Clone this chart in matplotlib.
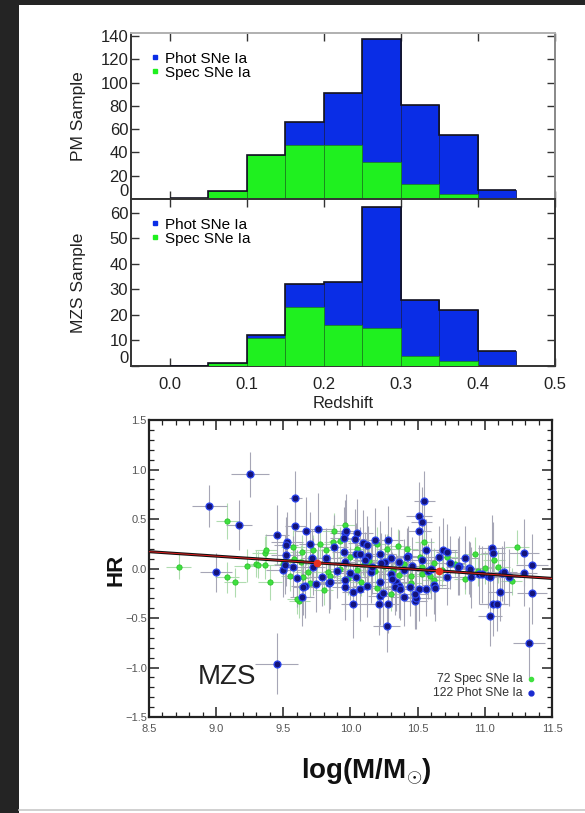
import matplotlib
matplotlib.use("Agg")
import matplotlib.pyplot as plt
from matplotlib.patches import Rectangle
from matplotlib.lines import Line2D
from matplotlib.ticker import MultipleLocator

plt.rcParams["font.family"] = ["Liberation Sans", "DejaVu Sans"]
plt.rcParams["mathtext.fontset"] = "custom"
plt.rcParams["mathtext.rm"] = "Liberation Sans"
plt.rcParams["mathtext.bf"] = "Liberation Sans:bold"

# ---------------- redshift histograms ----------------
z_edges = [0.00, 0.05, 0.10, 0.15, 0.20, 0.25, 0.30, 0.35, 0.40, 0.45]
pm_total = [1, 7, 38, 66, 91, 137, 81, 55, 8]
pm_spec = [1, 7, 38, 46, 46, 32, 13, 4, 0]
mzs_total = [0, 1, 12, 32, 33, 62, 26, 22, 6]
mzs_spec = [0, 1, 11, 23, 16, 15, 4, 2, 0]
z_ticks = [0.0, 0.1, 0.2, 0.3, 0.4, 0.5]
z_ticklabels = ["0.0", "0.1", "0.2", "0.3", "0.4", "0.5"]
pm_yticks = [0, 20, 40, 60, 80, 100, 120, 140]
mzs_yticks = [0, 10, 20, 30, 40, 50, 60]
hist_labels = ["Phot SNe Ia", "Spec SNe Ia"]

# ---------------- Hubble residuals vs host mass ----------------
# (log M, HR, mass error, HR error)
phot_sne = [
    (8.95, 0.63, 0.13, 0.21), (9.25, 0.95, 0.14, 0.23), (9.17, 0.44, 0.10, 0.25),
    (9.00, -0.04, 0.12, 0.20), (9.45, -0.96, 0.16, 0.31), (9.45, 0.34, 0.09, 0.30),
    (9.59, 0.71, 0.05, 0.27), (9.59, 0.43, 0.08, 0.33), (9.53, 0.27, 0.12, 0.30),
    (9.52, 0.24, 0.09, 0.28), (9.52, 0.14, 0.11, 0.32), (9.50, -0.02, 0.13, 0.27),
    (9.51, 0.04, 0.08, 0.30), (9.67, 0.38, 0.09, 0.34), (9.76, 0.40, 0.10, 0.36),
    (9.82, 0.11, 0.12, 0.30), (9.71, 0.11, 0.08, 0.29), (9.96, 0.36, 0.11, 0.33),
    (9.97, 0.38, 0.09, 0.37), (9.95, 0.31, 0.10, 0.31), (10.05, 0.36, 0.12, 0.34),
    (10.03, 0.30, 0.09, 0.30), (10.09, 0.26, 0.11, 0.33), (10.12, 0.24, 0.08, 0.29),
    (10.18, 0.29, 0.10, 0.32), (10.28, 0.29, 0.11, 0.34), (9.95, 0.17, 0.09, 0.28),
    (10.04, 0.15, 0.10, 0.31), (10.07, 0.15, 0.08, 0.27), (10.22, 0.15, 0.12, 0.33),
    (10.13, 0.13, 0.09, 0.30), (10.26, 0.07, 0.10, 0.28), (10.36, 0.07, 0.11, 0.32),
    (10.43, 0.13, 0.09, 0.30), (10.51, 0.53, 0.10, 0.34), (10.51, 0.38, 0.09, 0.31),
    (10.55, 0.68, 0.08, 0.30), (10.53, 0.47, 0.08, 0.35), (10.56, 0.19, 0.10, 0.31),
    (10.53, 0.09, 0.09, 0.29), (10.69, 0.19, 0.10, 0.32), (10.72, 0.17, 0.08, 0.28),
    (10.66, 0.12, 0.09, 0.31), (10.74, 0.06, 0.11, 0.27), (10.85, 0.11, 0.10, 0.32),
    (10.81, 0.03, 0.08, 0.30), (10.88, 0.01, 0.09, 0.27), (11.05, 0.21, 0.10, 0.33),
    (11.06, 0.16, 0.09, 0.31), (11.29, 0.16, 0.11, 0.34), (11.35, 0.04, 0.12, 0.31),
    (10.23, 0.06, 0.10, 0.30), (10.11, 0.09, 0.09, 0.28), (10.30, 0.11, 0.08, 0.31),
    (10.42, 0.12, 0.10, 0.29), (9.96, 0.07, 0.09, 0.27), (10.96, -0.06, 0.10, 0.30),
    (11.02, -0.08, 0.09, 0.32), (11.13, -0.05, 0.11, 0.28), (11.29, -0.05, 0.10, 0.33),
    (11.35, -0.25, 0.11, 0.31), (11.11, -0.24, 0.09, 0.29), (11.06, -0.36, 0.10, 0.32),
    (11.09, -0.36, 0.08, 0.27), (11.04, -0.48, 0.09, 0.30), (11.33, -0.75, 0.12, 0.36),
    (10.27, -0.58, 0.10, 0.26), (10.02, -0.36, 0.09, 0.34), (10.21, -0.36, 0.11, 0.31),
    (10.28, -0.36, 0.08, 0.29), (10.48, -0.33, 0.09, 0.28), (10.49, -0.30, 0.10, 0.31),
    (9.64, -0.29, 0.09, 0.29), (9.66, -0.18, 0.10, 0.32), (9.74, -0.16, 0.11, 0.28),
    (9.84, -0.15, 0.09, 0.30), (9.96, -0.19, 0.10, 0.33), (10.02, -0.24, 0.08, 0.29),
    (10.07, -0.21, 0.09, 0.32), (9.79, -0.09, 0.10, 0.29), (9.85, -0.14, 0.09, 0.27),
    (9.96, -0.12, 0.11, 0.31), (10.04, -0.09, 0.08, 0.28), (10.22, -0.14, 0.10, 0.32),
    (10.22, -0.28, 0.09, 0.29), (10.24, -0.25, 0.08, 0.33), (10.34, -0.14, 0.10, 0.29),
    (10.36, -0.18, 0.09, 0.32), (10.33, -0.19, 0.08, 0.28), (10.37, -0.21, 0.11, 0.31),
    (10.44, -0.19, 0.09, 0.29), (10.51, -0.21, 0.10, 0.32), (10.56, -0.21, 0.08, 0.27),
    (10.62, -0.17, 0.09, 0.29), (10.63, -0.20, 0.10, 0.33), (10.72, -0.09, 0.09, 0.28),
    (10.90, -0.09, 0.10, 0.31), (10.98, -0.06, 0.09, 0.29), (11.04, -0.09, 0.08, 0.27),
    (11.14, -0.04, 0.10, 0.32), (10.80, 0.02, 0.09, 0.29), (10.89, -0.01, 0.08, 0.28),
    (9.57, 0.02, 0.10, 0.31), (9.72, 0.02, 0.09, 0.29), (9.65, -0.19, 0.08, 0.28),
    (10.48, -0.26, 0.10, 0.32), (9.60, -0.10, 0.09, 0.29), (9.90, -0.03, 0.10, 0.27),
    (10.15, -0.04, 0.09, 0.31), (10.30, -0.06, 0.08, 0.29), (10.40, -0.02, 0.10, 0.32),
    (10.58, -0.03, 0.09, 0.28), (10.12, -0.18, 0.10, 0.31), (10.40, -0.29, 0.09, 0.29),
    (9.70, 0.25, 0.08, 0.32), (10.16, 0.02, 0.10, 0.28), (10.46, 0.03, 0.09, 0.29),
    (10.00, -0.05, 0.08, 0.27), (10.60, 0.00, 0.10, 0.31), (11.18, -0.09, 0.09, 0.29),
    (9.88, 0.22, 0.10, 0.32), (10.31, -0.11, 0.09, 0.28),
]
spec_sne = [
    (8.72, 0.02, 0.09, 0.13), (9.08, 0.48, 0.08, 0.18), (9.08, -0.09, 0.09, 0.16),
    (9.14, -0.14, 0.08, 0.15), (9.23, 0.03, 0.10, 0.17), (9.30, 0.05, 0.08, 0.14),
    (9.36, 0.16, 0.09, 0.17), (9.36, 0.04, 0.07, 0.15), (9.40, -0.14, 0.09, 0.18),
    (9.37, 0.19, 0.08, 0.16), (9.31, 0.04, 0.07, 0.14), (9.62, -0.33, 0.08, 0.17),
    (9.60, -0.31, 0.07, 0.15), (9.65, -0.09, 0.09, 0.17), (9.83, -0.04, 0.08, 0.14),
    (10.36, -0.07, 0.09, 0.17), (10.85, -0.11, 0.08, 0.15), (11.00, 0.01, 0.09, 0.17),
    (11.20, -0.13, 0.08, 0.14), (10.53, -0.06, 0.07, 0.15), (10.59, -0.08, 0.08, 0.17),
    (11.24, 0.22, 0.09, 0.17), (11.07, 0.09, 0.08, 0.15), (9.88, 0.38, 0.09, 0.18),
    (9.96, 0.44, 0.07, 0.17), (9.72, 0.19, 0.08, 0.15), (9.64, 0.17, 0.09, 0.17),
    (9.77, 0.25, 0.08, 0.14), (9.87, 0.27, 0.07, 0.17), (9.82, 0.19, 0.09, 0.15),
    (9.63, 0.07, 0.08, 0.17), (9.58, 0.10, 0.07, 0.14), (10.35, 0.23, 0.09, 0.17),
    (10.27, 0.20, 0.08, 0.15), (10.14, 0.08, 0.09, 0.17), (10.55, 0.27, 0.07, 0.18),
    (10.72, 0.12, 0.08, 0.15), (10.93, 0.15, 0.09, 0.17), (10.53, 0.02, 0.08, 0.14),
    (9.55, -0.08, 0.07, 0.15), (9.68, -0.04, 0.09, 0.17), (9.75, 0.05, 0.08, 0.14),
    (9.92, 0.00, 0.07, 0.15), (10.00, 0.12, 0.09, 0.17), (10.05, -0.02, 0.08, 0.14),
    (10.10, 0.05, 0.07, 0.15), (10.18, -0.03, 0.09, 0.17), (10.25, 0.03, 0.08, 0.14),
    (10.32, -0.02, 0.07, 0.15), (10.40, 0.05, 0.09, 0.17), (10.45, -0.08, 0.08, 0.14),
    (10.62, 0.06, 0.07, 0.15), (10.68, -0.02, 0.09, 0.17), (10.78, 0.05, 0.08, 0.14),
    (10.95, -0.03, 0.07, 0.15), (11.10, 0.02, 0.09, 0.17), (9.70, -0.15, 0.08, 0.14),
    (9.80, -0.22, 0.07, 0.15), (9.98, -0.10, 0.09, 0.17), (10.08, -0.14, 0.08, 0.14),
    (10.20, -0.20, 0.07, 0.15), (10.30, -0.26, 0.09, 0.17), (10.45, -0.15, 0.08, 0.14),
    (10.52, 0.12, 0.07, 0.15), (9.57, 0.22, 0.09, 0.17), (9.92, 0.28, 0.08, 0.14),
    (10.05, 0.20, 0.07, 0.15), (10.20, 0.25, 0.09, 0.17), (10.42, 0.20, 0.08, 0.14),
    (9.50, 0.05, 0.07, 0.15), (10.62, -0.12, 0.09, 0.17), (9.85, -0.08, 0.08, 0.14),
]
fit_mass = [8.5, 11.5]
fit_hr = [0.17, -0.10]
bin_mass = [9.75, 10.66]
bin_hr = [0.06, -0.03]
mass_ticks = [8.5, 9.0, 9.5, 10.0, 10.5, 11.0, 11.5]
hr_ticks = [-1.5, -1.0, -0.5, 0.0, 0.5, 1.0, 1.5]

BLUE = "#0a2de6"
GREEN = "#1ff01f"
AX_COL = "#333333"

W, H = 585, 813
fig = plt.figure(figsize=(W / 100, H / 100), dpi=100, facecolor="#242424")
fig.patches.append(Rectangle((19 / W, 0), 1, 1 - 5 / H, transform=fig.transFigure,
                             facecolor="white", edgecolor="none", zorder=-10))
fig.lines.append(Line2D([19 / W, 1], [3 / H, 3 / H], transform=fig.transFigure,
                        color="#c8c8c8", lw=1.2))


def px_axes(left, top, right, bottom):
    return fig.add_axes([left / W, 1 - bottom / H, (right - left) / W, (bottom - top) / H])


def draw_hist(ax, total, spec, ymax, yticks, ylabel, show_xlabels):
    widths = [z_edges[i + 1] - z_edges[i] for i in range(len(total))]
    ax.bar(z_edges[:-1], total, width=widths, align="edge", color=BLUE,
           edgecolor="#14206a", linewidth=0.6, zorder=2)
    ax.bar(z_edges[:-1], spec, width=widths, align="edge", color=GREEN,
           edgecolor="#1b7a1b", linewidth=0.5, zorder=3)
    ax.stairs(total, z_edges, color="#121222", linewidth=1.2, baseline=None, zorder=4)
    ax.set_xlim(-0.05, 0.5)
    ax.set_ylim(0, ymax)
    ax.set_xticks(z_ticks)
    ax.set_yticks(yticks)
    ax.set_yticklabels([str(v) for v in yticks])
    if show_xlabels:
        ax.set_xticklabels(z_ticklabels)
        ax.set_xlabel("Redshift", fontsize=12, color="#222222")
        ax.xaxis.set_label_coords(0.5, -0.178)
    else:
        ax.set_xticklabels([])
    ax.tick_params(axis="both", which="both", direction="in", top=True, right=True,
                   length=6, width=1.0, color=AX_COL, labelsize=12, labelcolor="#222222")
    ax.tick_params(axis="y", pad=2)
    ax.tick_params(axis="x", pad=8)
    ax.yaxis.get_major_ticks()[0].label1.set_verticalalignment("bottom")
    for side in ax.spines:
        ax.spines[side].set_color(AX_COL)
        ax.spines[side].set_linewidth(1.4)
    ax.set_ylabel(ylabel, fontsize=12.5, color="#222222")
    ax.yaxis.set_label_coords(-0.105, 0.5)
    handles = [Line2D([], [], ls="none", marker="s", ms=2.8, color=BLUE),
               Line2D([], [], ls="none", marker="s", ms=2.8, color=GREEN)]
    ax.legend(handles, hist_labels, loc="upper left", bbox_to_anchor=(0.035, 0.925),
              frameon=False, fontsize=11, handlelength=0.4, handletextpad=0.45,
              labelspacing=0.0, borderaxespad=0.0)


ax_pm = px_axes(131, 33, 555, 199)
draw_hist(ax_pm, pm_total, pm_spec, 142.5, pm_yticks, "PM Sample", False)
ax_pm.spines["top"].set_color("#b0b0b0")
ax_pm.spines["right"].set_color("#888888")

ax_mzs = px_axes(131, 199, 555, 366)
draw_hist(ax_mzs, mzs_total, mzs_spec, 65.3, mzs_yticks, "MZS Sample", True)

# ---------------- HR vs mass panel ----------------
ax = px_axes(149, 420, 552, 717)
for rows, ecol in ((spec_sne, "#b0dcb0"), (phot_sne, "#a6a6b6")):
    xs = [r[0] for r in rows]
    ys = [r[1] for r in rows]
    ax.errorbar(xs, ys, xerr=[r[2] for r in rows], yerr=[r[3] for r in rows],
                fmt="none", ecolor=ecol, elinewidth=0.8, capsize=0, zorder=1)

ax.plot([r[0] for r in spec_sne], [r[1] for r in spec_sne], ls="none", marker="o",
        ms=3.8, mfc="#3fe03f", mec="#2cc42c", mew=0.6, zorder=3)
ax.plot([r[0] for r in phot_sne], [r[1] for r in phot_sne], ls="none", marker="o",
        ms=5.0, mfc="#14147a", mec="#2a44f0", mew=0.9, zorder=4)
ax.plot(fit_mass, fit_hr, color="#111111", lw=2.2, zorder=5)
ax.plot(fit_mass, fit_hr, color="#e02020", lw=0.7, zorder=6)
ax.plot(bin_mass, bin_hr, ls="none", marker="o", ms=4.5, color="#e83020", zorder=7)

ax.set_xlim(8.5, 11.5)
ax.set_ylim(-1.5, 1.5)
ax.set_xticks(mass_ticks)
ax.set_xticklabels([f"{v:.1f}" for v in mass_ticks])
ax.set_yticks(hr_ticks)
ax.set_yticklabels([f"{v:.1f}".replace("-", "\u2212") for v in hr_ticks])
ax.xaxis.set_minor_locator(MultipleLocator(0.1))
ax.yaxis.set_minor_locator(MultipleLocator(0.1))
ax.tick_params(axis="both", which="both", direction="in", top=True, right=True,
               color="#222222", labelcolor="#555555")
ax.tick_params(which="major", length=7, width=1.1, labelsize=8)
ax.tick_params(which="minor", length=3.5, width=0.9)
ax.tick_params(axis="y", pad=1.5)
ax.tick_params(axis="x", pad=5)
for side in ax.spines:
    ax.spines[side].set_color("#222222")
    ax.spines[side].set_linewidth(1.6)

ax.set_ylabel("HR", fontsize=16, fontweight="bold", color="#111111")
ax.yaxis.set_label_coords(-0.057, 0.495)
ax.set_xlabel(r"$\mathbf{log(M/M}_{\odot}\mathbf{)}$", fontsize=20, color="#111111")
ax.xaxis.set_label_coords(0.54, -0.132)

ax.text(8.86, -1.1, "MZS", fontsize=20, va="center", ha="left", color="#222222")
ax.text(0.928, 0.128, "72 Spec SNe Ia", transform=ax.transAxes, ha="right",
        va="center", fontsize=8.8, color="#333333")
ax.text(0.928, 0.081, "122 Phot SNe Ia", transform=ax.transAxes, ha="right",
        va="center", fontsize=8.8, color="#333333")
ax.plot([0.948], [0.128], transform=ax.transAxes, marker="o", ms=3, color="#3fe03f",
        clip_on=False)
ax.plot([0.948], [0.081], transform=ax.transAxes, marker="o", ms=3.5, color="#1a2ad0",
        clip_on=False)

fig.savefig("out.png", dpi=100, facecolor=fig.get_facecolor())
